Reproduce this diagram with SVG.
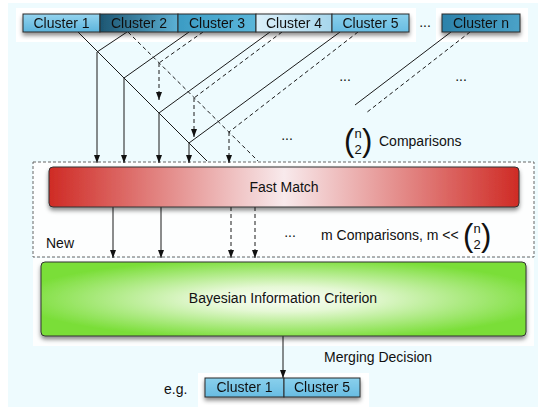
<svg xmlns="http://www.w3.org/2000/svg" width="546" height="411" viewBox="0 0 546 411">
<defs>
<style>
.t{font-family:"Liberation Sans",Arial,sans-serif;font-size:14px;fill:#111}
.bar{stroke:#2a2a2a;stroke-width:1}
.ln{stroke:#1a1a1a;stroke-width:1;fill:none}
.ds{stroke:#1a1a1a;stroke-width:1;fill:none;stroke-dasharray:4,3}
.ar{marker-end:url(#ah)}
</style>
<marker id="ah" viewBox="0 0 8 6" refX="8" refY="3" markerWidth="8" markerHeight="6" markerUnits="userSpaceOnUse" orient="auto">
<path d="M0,0 L8,3 L0,6 z" fill="#111"/>
</marker>
<filter id="sh" x="-5%" y="-20%" width="110%" height="160%">
<feDropShadow dx="0" dy="3" stdDeviation="2" flood-color="#000" flood-opacity="0.45"/>
</filter>
<linearGradient id="g1" x1="0" y1="0" x2="0" y2="1"><stop offset="0" stop-color="#94d4ef"/><stop offset="1" stop-color="#5cb4dc"/></linearGradient>
<linearGradient id="g2" x1="0" y1="0" x2="1" y2="0"><stop offset="0" stop-color="#1d5672"/><stop offset="1" stop-color="#5cb0d4"/></linearGradient>
<linearGradient id="g3" x1="0" y1="0" x2="1" y2="0"><stop offset="0" stop-color="#3c9cc4"/><stop offset="1" stop-color="#5ab6da"/></linearGradient>
<linearGradient id="g4" x1="0" y1="0" x2="1" y2="0"><stop offset="0" stop-color="#dbf0fa"/><stop offset="1" stop-color="#a6d6ec"/></linearGradient>
<linearGradient id="g5" x1="0" y1="0" x2="0" y2="1"><stop offset="0" stop-color="#8ad0ec"/><stop offset="1" stop-color="#68bce2"/></linearGradient>
<linearGradient id="gn" x1="0" y1="0" x2="1" y2="0"><stop offset="0" stop-color="#2c82aa"/><stop offset="1" stop-color="#4aa2c8"/></linearGradient>
<linearGradient id="gf" x1="0" y1="0" x2="1" y2="0"><stop offset="0" stop-color="#cf2b25"/><stop offset="0.5" stop-color="#f8eaec"/><stop offset="1" stop-color="#cf2b25"/></linearGradient>
<radialGradient id="gb" cx="0.5" cy="0.5" r="0.55"><stop offset="0" stop-color="#fafef6"/><stop offset="0.3" stop-color="#e6f8d6"/><stop offset="1" stop-color="#7ade38"/></radialGradient>
</defs>
<rect x="8" y="3" width="530" height="404" fill="#eefbfe"/>
<rect x="16" y="8" width="400" height="34" fill="#fff"/>
<rect x="436" y="8" width="92" height="34" fill="#fff"/>
<rect x="33" y="162" width="501" height="95" fill="#fdfefe" stroke="#666" stroke-dasharray="3,2"/>
<rect x="33" y="258" width="501" height="88" fill="#fdfefe"/>
<rect x="198" y="373" width="171" height="34" fill="#fff"/>

<g id="connectors">
<line class="ln" x1="78" y1="32" x2="207" y2="161"/>
<line class="ds" x1="128" y1="32" x2="258" y2="161"/>
<line class="ln" x1="127" y1="32" x2="97" y2="52"/>
<line class="ln" x1="189" y1="32" x2="124" y2="78"/>
<line class="ds" x1="203" y1="32" x2="159" y2="63"/>
<line class="ln" x1="270" y1="32" x2="159" y2="113"/>
<line class="ds" x1="282" y1="32" x2="194" y2="98"/>
<line class="ln" x1="340" y1="32" x2="189" y2="143"/>
<line class="ds" x1="358" y1="32" x2="229" y2="132"/>
<line class="ln" x1="451" y1="32" x2="355" y2="105"/>
<line class="ds" x1="470" y1="32" x2="366" y2="113"/>
<line class="ln ar" x1="97" y1="52" x2="97" y2="163"/>
<line class="ln ar" x1="124" y1="78" x2="124" y2="163"/>
<line class="ds ar" x1="159" y1="63" x2="159" y2="100"/>
<line class="ln ar" x1="159" y1="113" x2="159" y2="163"/>
<line class="ds ar" x1="194" y1="98" x2="194" y2="137"/>
<line class="ln ar" x1="189" y1="143" x2="189" y2="163"/>
<line class="ds ar" x1="229" y1="132" x2="229" y2="163"/>
<line class="ln ar" x1="113" y1="207" x2="113" y2="258"/>
<line class="ln ar" x1="161" y1="207" x2="161" y2="258"/>
<line class="ds ar" x1="231" y1="207" x2="231" y2="258"/>
<line class="ds ar" x1="255" y1="207" x2="255" y2="258"/>
<line class="ln ar" x1="283" y1="336" x2="283" y2="378"/>
</g>

<g id="clusters" filter="url(#sh)">
<g id="cluster1"><rect class="bar" x="23" y="14" width="77" height="18" fill="url(#g1)"/><text class="t" x="61.5" y="28" text-anchor="middle">Cluster 1</text></g>
<g id="cluster2"><rect class="bar" x="100" y="14" width="78" height="18" fill="url(#g2)"/><text class="t" x="139" y="28" text-anchor="middle">Cluster 2</text></g>
<g id="cluster3"><rect class="bar" x="178" y="14" width="78" height="18" fill="url(#g3)"/><text class="t" x="217" y="28" text-anchor="middle">Cluster 3</text></g>
<g id="cluster4"><rect class="bar" x="256" y="14" width="76" height="18" fill="url(#g4)"/><text class="t" x="294" y="28" text-anchor="middle">Cluster 4</text></g>
<g id="cluster5"><rect class="bar" x="332" y="14" width="77" height="18" fill="url(#g5)"/><text class="t" x="370.5" y="28" text-anchor="middle">Cluster 5</text></g>
<g id="clustern"><rect class="bar" x="442" y="14" width="78" height="18" fill="url(#gn)"/><text class="t" x="481" y="28" text-anchor="middle">Cluster n</text></g>
</g>
<text class="t" x="425" y="27" text-anchor="middle">...</text>
<text class="t" x="345" y="81" text-anchor="middle">...</text>
<text class="t" x="461" y="81" text-anchor="middle">...</text>
<text class="t" x="287" y="140" text-anchor="middle">...</text>

<g id="binom1">
<text class="t" x="344" y="151" style="font-size:31px">(</text>
<text class="t" x="358" y="138" text-anchor="middle" style="font-size:13px">n</text>
<text class="t" x="358" y="154" text-anchor="middle" style="font-size:13px">2</text>
<text class="t" x="362" y="151" style="font-size:31px">)</text>
<text class="t" x="379" y="146">Comparisons</text>
</g>

<g id="fastmatch"><rect x="49" y="167" width="470" height="40" rx="4" fill="url(#gf)" stroke="#333" filter="url(#sh)"/><text class="t" x="284" y="192" text-anchor="middle">Fast Match</text></g>

<text class="t" x="46" y="248">New</text>
<text class="t" x="290" y="237" text-anchor="middle">...</text>
<g id="binom2">
<text class="t" x="321" y="240">m Comparisons, m &lt;&lt;</text>
<text class="t" x="463" y="246" style="font-size:31px">(</text>
<text class="t" x="477" y="233" text-anchor="middle" style="font-size:13px">n</text>
<text class="t" x="477" y="249" text-anchor="middle" style="font-size:13px">2</text>
<text class="t" x="481" y="246" style="font-size:31px">)</text>
</g>

<g id="bic"><rect x="41" y="262" width="485" height="74" rx="4" fill="url(#gb)" stroke="#333" filter="url(#sh)"/><text class="t" x="283" y="303" text-anchor="middle">Bayesian Information Criterion</text></g>

<text class="t" x="324" y="362">Merging Decision</text>
<text class="t" x="164" y="394">e.g.</text>
<g id="result" filter="url(#sh)">
<g id="res1"><rect class="bar" x="205" y="378" width="79" height="19" fill="url(#g5)"/><text class="t" x="244.5" y="392" text-anchor="middle">Cluster 1</text></g>
<g id="res5"><rect class="bar" x="284" y="378" width="76" height="19" fill="url(#g5)"/><text class="t" x="322" y="392" text-anchor="middle">Cluster 5</text></g>
</g>
</svg>
